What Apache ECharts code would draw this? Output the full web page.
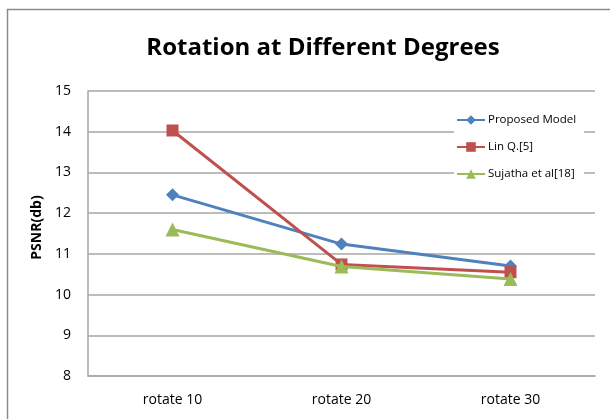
<!DOCTYPE html>
<html>
<head>
<meta charset="utf-8">
<script src="https://cdn.jsdelivr.net/npm/echarts@6/dist/echarts.min.js"></script>
<style>
html,body{margin:0;padding:0;background:#fff;}
#c{width:610px;height:419px;}
</style>
</head>
<body>
<div id="c"></div>
<script>
var categories = ['rotate 10', 'rotate 20', 'rotate 30'];
var proposedModel = [12.45, 11.24, 10.7];
var linQ = [14.03, 10.74, 10.55];
var sujatha = [11.6, 10.69, 10.38];
var yTicks = [8, 9, 10, 11, 12, 13, 14, 15];

var FONT = 'Open Sans';
var chart = echarts.init(document.getElementById('c'));
chart.setOption({
  animation: false,
  backgroundColor: '#fff',
  graphic: [{
    type: 'rect', silent: true, z: -1,
    shape: { x: 7.5, y: 9.5, width: 640, height: 440 },
    style: { fill: 'none', stroke: '#8c8c8c', lineWidth: 1.5 }
  }],
  title: {
    text: 'Rotation at Different Degrees',
    left: 318, top: 31, textAlign: 'center',
    textStyle: { fontFamily: FONT, fontWeight: 'bold', fontSize: 24, color: '#000' }
  },
  legend: {
    orient: 'vertical',
    left: 454, top: 108,
    width: 131,
    backgroundColor: '#fff',
    padding: [6, 8, 6, 2],
    itemWidth: 28, itemHeight: 12, itemGap: 15,
    textStyle: { fontFamily: FONT, fontSize: 11.5, color: '#000', padding: [0,0,0,-2] },
    data: ['Proposed Model', 'Lin Q.[5]', 'Sujatha et al[18]']
  },
  grid: { left: 88, top: 91, right: 15, bottom: 43 },
  xAxis: {
    type: 'category',
    data: categories,
    boundaryGap: true,
    axisLine: { lineStyle: { color: '#a6a6a6', width: 1.5 } },
    axisTick: { show: false },
    axisLabel: { fontFamily: FONT, fontSize: 14, color: '#000', margin: 17 }
  },
  yAxis: {
    type: 'value',
    min: yTicks[0], max: yTicks[yTicks.length - 1], interval: 1,
    name: 'PSNR(db)',
    nameLocation: 'middle',
    nameGap: 41,
    nameTextStyle: { fontFamily: FONT, fontWeight: 'bold', fontSize: 14, color: '#000', padding: [0,0,0,12] },
    axisLine: { show: true, lineStyle: { color: '#a6a6a6', width: 1.5 } },
    axisTick: { show: false },
    axisLabel: { fontFamily: FONT, fontSize: 14, color: '#000', margin: 17 },
    splitLine: { lineStyle: { color: '#a6a6a6', width: 1.5 } }
  },
  series: [
    {
      name: 'Proposed Model', type: 'line', data: proposedModel,
      symbol: 'diamond', symbolSize: 13,
      itemStyle: { color: '#4f81bd' },
      lineStyle: { color: '#4f81bd', width: 3 }, z: 3
    },
    {
      name: 'Lin Q.[5]', type: 'line', data: linQ,
      symbol: 'rect', symbolSize: 12,
      itemStyle: { color: '#c0504d' },
      lineStyle: { color: '#c0504d', width: 3 }, z: 4
    },
    {
      name: 'Sujatha et al[18]', type: 'line', data: sujatha,
      symbol: 'triangle', symbolSize: 14,
      itemStyle: { color: '#9bbb59' },
      lineStyle: { color: '#9bbb59', width: 3 }, z: 5
    }
  ]
});
</script>
</body>
</html>
